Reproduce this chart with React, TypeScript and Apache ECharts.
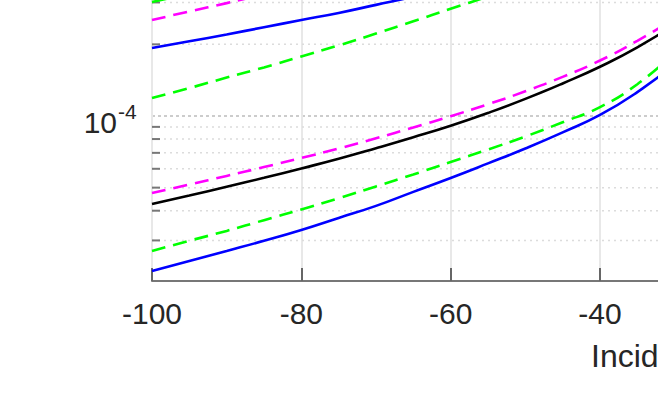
import React, { useEffect, useRef } from "react";
import * as echarts from "echarts";

const incidence = [-100, -95, -90, -85, -80, -75, -70, -65, -60, -55, -50, -45, -40, -35, -30];

const greenSolidTop = [3.01e-4, 3.26e-4, 3.53e-4, 3.84e-4, 4.19e-4, 4.59e-4, 5.06e-4, 5.6e-4, 6.23e-4, 6.99e-4, 7.93e-4, 9.08e-4, 1.06e-3, 1.27e-3, 1.59e-3];
const magentaDashTop = [2.53e-4, 2.75e-4, 2.98e-4, 3.25e-4, 3.54e-4, 3.87e-4, 4.24e-4, 4.66e-4, 5.13e-4, 5.71e-4, 6.41e-4, 7.27e-4, 8.4e-4, 1.0e-3, 1.22e-3];
const blueSolidTop = [1.93e-4, 2.06e-4, 2.2e-4, 2.36e-4, 2.53e-4, 2.71e-4, 2.93e-4, 3.17e-4, 3.45e-4, 3.78e-4, 4.17e-4, 4.66e-4, 5.28e-4, 6.17e-4, 7.48e-4];
const greenDashTop = [1.19e-4, 1.31e-4, 1.45e-4, 1.6e-4, 1.78e-4, 1.98e-4, 2.22e-4, 2.5e-4, 2.82e-4, 3.18e-4, 3.6e-4, 4.14e-4, 4.79e-4, 5.98e-4, 8.09e-4];
const magentaDashLow = [4.75e-5, 5.15e-5, 5.6e-5, 6.1e-5, 6.66e-5, 7.3e-5, 8.06e-5, 8.95e-5, 9.98e-5, 1.12e-4, 1.27e-4, 1.46e-4, 1.71e-4, 2.07e-4, 2.57e-4];
const blackSolid = [4.27e-5, 4.63e-5, 5.04e-5, 5.5e-5, 6.02e-5, 6.61e-5, 7.32e-5, 8.14e-5, 9.1e-5, 1.03e-4, 1.18e-4, 1.37e-4, 1.61e-4, 1.94e-4, 2.43e-4];
const greenDashLow = [2.71e-5, 2.99e-5, 3.29e-5, 3.65e-5, 4.05e-5, 4.51e-5, 5.06e-5, 5.68e-5, 6.41e-5, 7.23e-5, 8.2e-5, 9.41e-5, 1.09e-4, 1.36e-4, 1.84e-4];
const blueSolidLow = [2.23e-5, 2.46e-5, 2.71e-5, 2.99e-5, 3.32e-5, 3.73e-5, 4.19e-5, 4.8e-5, 5.49e-5, 6.32e-5, 7.3e-5, 8.53e-5, 1.01e-4, 1.26e-4, 1.65e-4];

const minorTickValues = [
  3e-5, 4e-5, 5e-5, 6e-5, 7e-5, 8e-5, 9e-5,
  2e-4, 3e-4, 4e-4, 5e-4, 6e-4, 7e-4, 8e-4, 9e-4,
  2e-3, 3e-3, 4e-3, 5e-3, 6e-3, 7e-3, 8e-3, 9e-3,
];

// y tick labels, drawn as 10^exponent
const yLabelExponents = [-4, -3, -2];

const xLabelText = "Incidence angle (deg)";

const FONT = "'Liberation Sans', Arial, Helvetica, sans-serif";
const TEXT = "#262626";

// The reference is a crop of a larger figure: the chart canvas extends past the window.
const OFFSET_TOP = 420;
const CANVAS_W = 958;
const CANVAS_H = 402 + OFFSET_TOP;

export default function App() {
  const ref = useRef<HTMLDivElement>(null);
  useEffect(() => {
    if (!ref.current) return;
    document.body.style.overflow = "hidden";
    const chart = echarts.init(ref.current, undefined, { renderer: "svg" });
    const mk = (name: string, arr: number[], color: string, dashed: boolean) => ({
      name,
      type: "line",
      data: incidence.map((x, i) => [x, arr[i]]),
      showSymbol: false,
      smooth: 0.5,
      z: 4,
      lineStyle: { color, width: 2.6, type: dashed ? [14, 8] : "solid" },
    });
    chart.setOption({
      animation: false,
      backgroundColor: "#ffffff",
      grid: { left: 152, right: 59.33, top: 60, bottom: 121, containLabel: false },
      xAxis: {
        type: "value",
        min: -100,
        max: 0,
        interval: 20,
        axisLine: { show: true, onZero: false, lineStyle: { color: "#777777", width: 2 } },
        axisTick: { show: true, inside: true, length: 13, lineStyle: { color: "#666666", width: 2 } },
        axisLabel: { fontSize: 30, color: TEXT, fontFamily: FONT, margin: 17 },
        splitLine: { show: true, lineStyle: { color: "#e8e8e8", width: 2 } },
      },
      yAxis: {
        type: "log",
        logBase: 10,
        min: 2.026e-5,
        max: 1e-2,
        axisLine: { show: true, lineStyle: { color: "#777777", width: 2 } },
        axisTick: { show: true, inside: true, length: 15, lineStyle: { color: "#777777", width: 2 } },
        axisLabel: { show: false },
        splitLine: { show: true, lineStyle: { color: "#cccccc", width: 2, type: [3, 3] } },
      },
      series: [
        {
          type: "custom",
          z: 1,
          silent: true,
          data: minorTickValues.map((v) => [-100, v]),
          encode: { x: 0, y: 1 },
          renderItem: (params: any, api: any) => {
            const p = api.coord([-100, api.value(1)]);
            const cs = params.coordSys;
            return {
              type: "group",
              children: [
                {
                  type: "line",
                  shape: { x1: cs.x, y1: p[1], x2: cs.x + cs.width, y2: p[1] },
                  style: { stroke: "#dcdcdc", lineWidth: 1.5, lineDash: [2, 4] },
                },
                {
                  type: "line",
                  shape: { x1: cs.x, y1: p[1], x2: cs.x + 8, y2: p[1] },
                  style: { stroke: "#777777", lineWidth: 2 },
                },
              ],
            };
          },
        },
        mk("Green solid (upper)", greenSolidTop, "#00ff00", false),
        mk("Magenta dashed (upper)", magentaDashTop, "#ff00ff", true),
        mk("Blue solid (upper)", blueSolidTop, "#0000ff", false),
        mk("Green dashed (upper)", greenDashTop, "#00ff00", true),
        mk("Magenta dashed (lower)", magentaDashLow, "#ff00ff", true),
        mk("Black solid", blackSolid, "#000000", false),
        mk("Green dashed (lower)", greenDashLow, "#00ff00", true),
        mk("Blue solid (lower)", blueSolidLow, "#0000ff", false),
      ],
    });

    // y tick labels placed through the axis scale (only those inside the window)
    const labelGraphics: any[] = [];
    yLabelExponents.forEach((e) => {
      const py = chart.convertToPixel({ yAxisIndex: 0 }, Math.pow(10, e)) as number;
      const screenY = py - OFFSET_TOP;
      if (screenY < 15 || screenY > 402) return;
      labelGraphics.push({
        type: "text",
        x: 117,
        y: py + 7,
        style: {
          text: "10",
          fontSize: 30,
          fill: TEXT,
          fontFamily: FONT,
          align: "right",
          verticalAlign: "middle",
        },
      });
      labelGraphics.push({
        type: "text",
        x: 118,
        y: py - 4,
        style: {
          text: String(e),
          fontSize: 21,
          fill: TEXT,
          fontFamily: FONT,
          align: "left",
          verticalAlign: "middle",
        },
      });
    });
    labelGraphics.push({
      type: "text",
      left: 591,
      top: 340 + OFFSET_TOP,
      style: { text: xLabelText, fontSize: 32, fill: TEXT, fontFamily: FONT },
    });
    chart.setOption({ graphic: labelGraphics });

    return () => chart.dispose();
  }, []);
  return (
    <div
      ref={ref}
      style={{
        position: "fixed",
        left: 0,
        top: -OFFSET_TOP,
        width: CANVAS_W,
        height: CANVAS_H,
        background: "#fff",
      }}
    />
  );
}
